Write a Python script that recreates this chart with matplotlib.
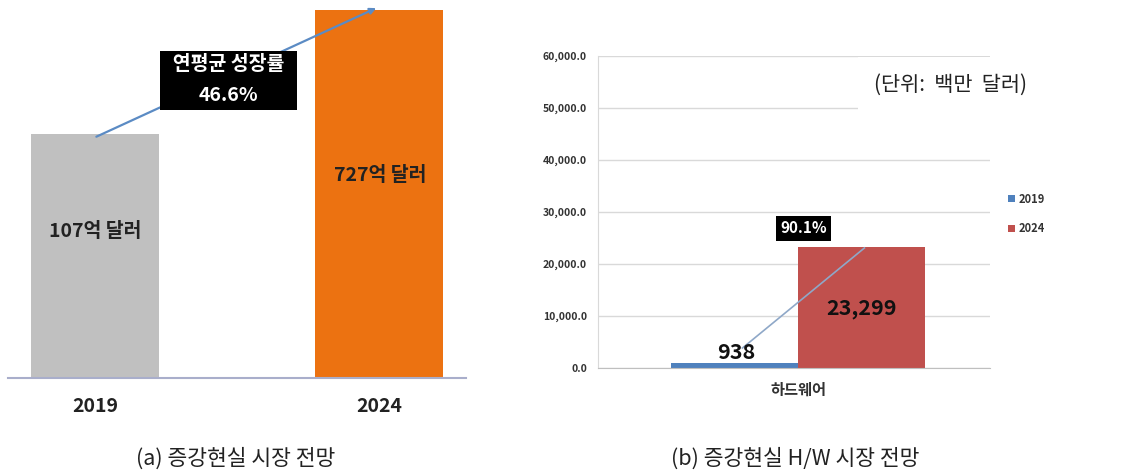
import matplotlib.pyplot as plt
from matplotlib.ticker import FuncFormatter

plt.rcParams['font.family'] = ['Noto Sans CJK KR', 'DejaVu Sans']

# (a) market outlook, 억 달러
years = ['2019', '2024']
market = [107, 727]
market_labels = ['107억 달러', '727억 달러']
cagr_a = '  연평균 성장률  \n46.6%'

# (b) H/W market outlook, 백만 달러
category = '하드웨어'
hw_2019 = 938
hw_2024 = 23299
cagr_b = '90.1%'

fig = plt.figure(figsize=(11.37, 4.73), dpi=100)

# ---- left panel ----
ax1 = fig.add_axes([8 / 1137, 1 - 378 / 473, 458 / 1137, 373 / 473])
ax1.set_yscale('log')
ax1.set_ylim(2.70, 785)
ax1.set_xlim(-0.306, 1.306)
xs = [0, 1]
ax1.bar(xs, market, width=0.45, color=['#c0c0c0', '#ec7211'], bottom=2.70, zorder=2)
for sp in ['top', 'right', 'left']:
    ax1.spines[sp].set_visible(False)
ax1.spines['bottom'].set_color('#a9aecb')
ax1.spines['bottom'].set_linewidth(1.5)
ax1.set_yticks([])
ax1.yaxis.set_minor_locator(plt.NullLocator())
ax1.set_xticks(xs)
ax1.set_xticklabels(years, fontsize=14, fontweight='bold', color='#222222')
ax1.tick_params(axis='x', length=0, pad=14)

ax1.text(0, 24.9, market_labels[0], ha='center', va='center', fontsize=14,
         fontweight='bold', color='#222222', zorder=3)
ax1.text(1.005, 58.3, market_labels[1], ha='center', va='center', fontsize=14,
         fontweight='bold', color='#222222', zorder=3)
ax1.annotate('', xy=(0.99, market[1] * 1.03), xytext=(0.005, market[0] * 0.99),
             arrowprops=dict(arrowstyle='-|>', color='#5b8bc4', lw=1.6,
                             mutation_scale=9, shrinkA=0, shrinkB=0), zorder=3)
ax1.text(0.47, 250, cagr_a, ha='center', va='center', fontsize=14,
         fontweight='bold', color='white', linespacing=1.8, zorder=4,
         bbox=dict(boxstyle='square,pad=0.22', fc='black', ec='none'))

fig.text(236 / 1137, 1 - 459 / 473, '(a) 증강현실 시장 전망', ha='center',
         va='center', fontsize=15.5, color='#222222')

# ---- right panel ----
ax2 = fig.add_axes([598 / 1137, 1 - 368 / 473, 392 / 1137, 312 / 473])
ax2.set_ylim(0, 60000)
ax2.set_xlim(-0.552, 0.528)
w = 0.35
ax2.bar(-w / 2, hw_2019, width=w, color='#4f81bd', label='2019', zorder=2)
ax2.bar(w / 2, hw_2024, width=w, color='#c0504d', label='2024', zorder=2)
ax2.set_yticks(range(0, 60001, 10000))
ax2.yaxis.set_major_formatter(FuncFormatter(lambda v, p: f'{v:,.1f}'))
ax2.grid(axis='y', color='#d9d9d9', lw=1, zorder=0)
for sp in ['top', 'right']:
    ax2.spines[sp].set_visible(False)
ax2.spines['left'].set_color('#d9d9d9')
ax2.spines['bottom'].set_color('#bfbfbf')
ax2.tick_params(axis='y', length=0, labelsize=7.5, labelcolor='#333333', pad=8)
for t in ax2.get_yticklabels():
    t.set_fontweight('bold')
ax2.set_xticks([0])
ax2.set_xticklabels([category], fontsize=11, fontweight='bold', color='#333333')
ax2.tick_params(axis='x', length=0, pad=10)

ax2.plot([-0.154, 0.182], [3850, 23080], color='#8fa8c8', lw=1.2, zorder=3)
ax2.text(-w / 2 + 0.005, 2900, f'{hw_2019:,}', ha='center', va='center',
         fontsize=15.5, fontweight='bold', color='#111111', zorder=4)
ax2.text(w / 2 + 0.0, 11400, f'{hw_2024:,}', ha='center', va='center',
         fontsize=15.5, fontweight='bold', color='#111111', zorder=4)
ax2.text(0.014, 26900, cagr_b, ha='center', va='center', fontsize=11,
         fontweight='bold', color='white', zorder=4,
         bbox=dict(boxstyle='square,pad=0.3', fc='black', ec='none'))
ax2.text(0.42, 54400, '(단위:  백만  달러)', ha='center', va='center', fontsize=15,
         color='#222222', zorder=5, clip_on=False,
         bbox=dict(boxstyle='square,pad=0.8', fc='white', ec='none'))

leg = ax2.legend(loc='center left', bbox_to_anchor=(1.02, 0.494), frameon=False,
                 handlelength=0.6, handleheight=0.6, handletextpad=0.4,
                 labelspacing=1.5, prop={'size': 8, 'weight': 'bold'})
for t in leg.get_texts():
    t.set_color('#333333')

fig.text(795 / 1137, 1 - 459 / 473, '(b) 증강현실 H/W 시장 전망', ha='center',
         va='center', fontsize=15.5, color='#222222')

fig.savefig('out.png', dpi=100)
